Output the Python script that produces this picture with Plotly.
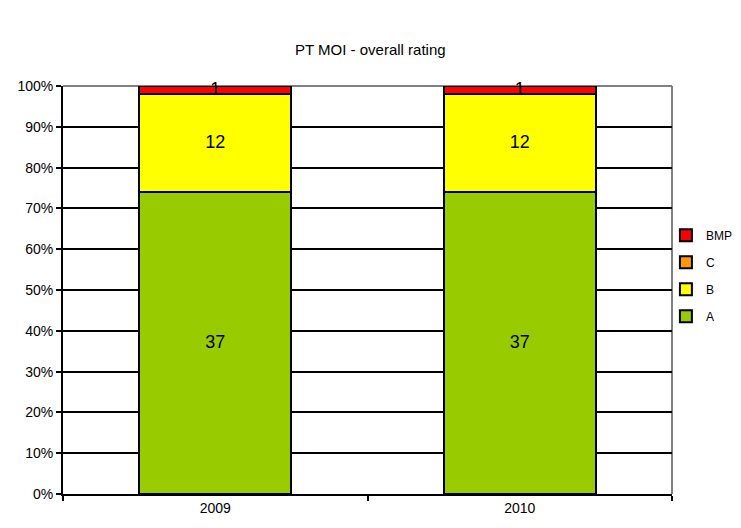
import plotly.graph_objects as go

categories = ["2009", "2010"]
a_vals = [37, 37]
b_vals = [12, 12]
c_vals = [0, 0]
bmp_vals = [1, 1]
y_tick_vals = [0, 10, 20, 30, 40, 50, 60, 70, 80, 90, 100]
y_tick_text = ["0%", "10%", "20%", "30%", "40%", "50%", "60%", "70%", "80%", "90%", "100%"]

series = [
    ("A", a_vals, "#99CC00", 4),
    ("B", b_vals, "#FFFF00", 3),
    ("C", c_vals, "#FF9900", 2),
    ("BMP", bmp_vals, "#FF0000", 1),
]

FONT = "Arial, Liberation Sans, sans-serif"

fig = go.Figure()
totals = [sum(s[1][i] for s in series) for i in range(len(categories))]
base = [0.0] * len(categories)
for name, vals, color, rank in series:
    fig.add_trace(go.Bar(
        x=categories, y=vals, name=name, legendrank=rank, legendgroup=name,
        marker=dict(color=color, line=dict(color="black", width=2)),
        textposition="none", hoverinfo="skip",
    ))
    # value labels centred in each segment
    mids, labels = [], []
    for i, v in enumerate(vals):
        pct = 100.0 * v / totals[i]
        mids.append(base[i] + pct / 2)
        labels.append(str(v) if v > 0 else "")
        base[i] += pct
    fig.add_trace(go.Scatter(
        x=categories, y=mids, mode="text", text=labels,
        textfont=dict(family=FONT, size=18, color="black"),
        showlegend=False, hoverinfo="skip", cliponaxis=False,
    ))

fig.update_layout(
    width=741, height=528,
    margin=dict(l=55, r=77, t=78, b=42, autoexpand=False),
    barmode="stack", barnorm="percent", bargap=0.5,
    plot_bgcolor="white", paper_bgcolor="white",
    font=dict(family=FONT, size=14, color="black"),
    title=dict(text="PT MOI - overall rating", x=0.489, xref="container",
               y=1 - 42 / 528, yref="container", yanchor="middle",
               font=dict(family=FONT, size=15, color="black")),
    legend=dict(x=0.99, xanchor="left", y=0.535, yanchor="middle",
                traceorder="grouped", tracegroupgap=8,
                font=dict(family=FONT, size=12, color="black"),
                bgcolor="rgba(0,0,0,0)"),
    showlegend=True,
)

fig.update_yaxes(
    range=[0, 100], tickmode="array", tickvals=y_tick_vals, ticktext=y_tick_text,
    showgrid=True, gridcolor="black", gridwidth=2,
    showline=True, linecolor="black", linewidth=2,
    ticks="outside", ticklen=5, tickwidth=2, tickcolor="black",
    zeroline=False, automargin=False,
    tickfont=dict(family=FONT, size=14, color="black"),
)
fig.update_xaxes(
    showline=True, linecolor="black", linewidth=2,
    ticks="outside", ticklen=5, tickwidth=2, tickcolor="black",
    tickson="boundaries", showgrid=False, automargin=False,
    tickfont=dict(family=FONT, size=14, color="black"),
)

# grey plot-area border on top and right
fig.add_shape(type="line", xref="paper", yref="paper", x0=0, x1=1, y0=1, y1=1,
              line=dict(color="#808080", width=2), layer="below")
fig.add_shape(type="line", xref="paper", yref="paper", x0=1, x1=1, y0=0, y1=1,
              line=dict(color="#808080", width=2), layer="below")

fig.write_html("out.html")
